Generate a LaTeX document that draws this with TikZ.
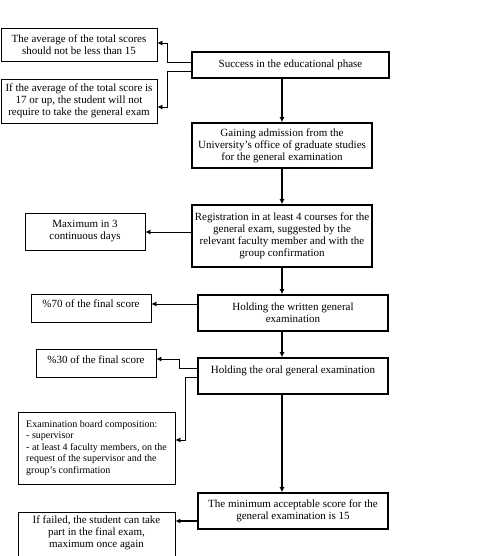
\documentclass[tikz,border=0pt]{standalone}
\usepackage{fontspec}
\setmainfont{Liberation Serif}
\usetikzlibrary{arrows.meta}
\tikzset{
  x=1pt, y=-1pt,
  mainbox/.style={draw, line width=1.6pt, align=center, inner sep=0pt, font=\fontsize{11}{12}\selectfont},
  sidebox/.style={draw, line width=0.8pt, align=center, inner sep=0pt, font=\fontsize{11}{12}\selectfont},
  sideconn/.style={line width=0.8pt, -{Latex[length=5pt,width=5pt]}},
  mainconn/.style={line width=1.6pt, -{Latex[length=5pt,width=5pt]}}
}
\begin{document}
\begin{tikzpicture}
\useasboundingbox (0,0) rectangle (486,556);
% main boxes
\node[mainbox, minimum width=197, minimum height=26] (success) at (290.5,65) {Success in the educational phase};
\node[mainbox, minimum width=180, minimum height=45] (gaining) at (282,145.5) {Gaining admission from the\\University’s office of graduate studies\\for the general examination};
\node[mainbox, minimum width=180, minimum height=62] (reg) at (282,236) {Registration in at least 4 courses for the\\general exam, suggested by the\\relevant faculty member and with the\\group confirmation};
\node[mainbox, minimum width=190, minimum height=36] (written) at (293,313) {Holding the written general\\examination};
\node[mainbox, minimum width=190, minimum height=36] (oral) at (293,376) {Holding the oral general examination\\\mbox{}};
\node[mainbox, minimum width=190, minimum height=36] (minb) at (293,511) {The minimum acceptable score for the\\general examination is 15};
% side boxes
\node[sidebox, minimum width=156, minimum height=33] (avg) at (79,44.5) {The average of the total scores\\should not be less than 15};
\node[sidebox, minimum width=156, minimum height=44] (seventeen) at (79,101) {If the average of the total score is\\17 or up, the student will not\\require to take the general exam};
\node[sidebox, minimum width=120, minimum height=37] (maxb) at (85,231.5) {Maximum in 3\\continuous days};
\node[sidebox, minimum width=120, minimum height=28] (p70) at (91,308) {\%70 of the final score\\[-4pt]\mbox{}};
\node[sidebox, minimum width=120, minimum height=28] (p30) at (96,363) {\%30 of the final score\\[-5pt]\mbox{}};
\node[sidebox, align=left, minimum width=157, minimum height=72, font=\fontsize{10}{11.5}\selectfont] (board) at (96.5,448) {Examination board composition:\\- supervisor\\- at least 4 faculty members, on the\\request of the supervisor and the\\group’s confirmation};
\node[sidebox, anchor=north, minimum width=157, inner ysep=3pt] (failed) at (96.5,512) {If failed, the student can take\\part in the final exam,\\maximum once again\\\mbox{}\\\mbox{}};
% main flow
\draw[mainconn] (success.south -| gaining.center) -- (gaining.north);
\draw[mainconn] (gaining.south) -- (reg.north);
\draw[mainconn] (reg.south) -- (written.north -| reg.center);
\draw[mainconn] (written.south -| reg.center) -- (oral.north -| reg.center);
\draw[mainconn] (oral.south -| reg.center) -- (minb.north -| reg.center);
% side connectors
\draw[sideconn] (success.west |- 0,62) -- ++(-24,0) |- (avg.east |- 0,43);
\draw[sideconn] (success.west |- 0,71) -- ++(-24,0) |- (seventeen.east |- 0,107);
\draw[sideconn] (reg.west |- 0,232) -- (maxb.east |- 0,232);
\draw[sideconn] (written.west |- 0,304) -- (p70.east |- 0,304);
\draw[sideconn] (oral.west |- 0,368) -- ++(-18,0) |- (p30.east |- 0,359);
\draw[sideconn] (oral.west |- 0,377) -- ++(-12,0) |- (board.east |- 0,440);
\draw[mainconn] (minb.west |- 0,521) -- (failed.east |- 0,521);
\end{tikzpicture}
\end{document}
